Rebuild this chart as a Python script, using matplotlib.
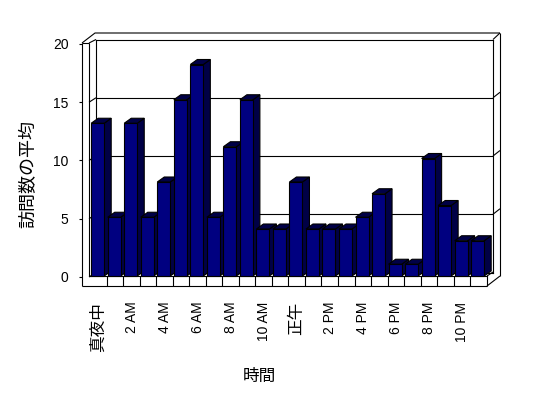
import matplotlib
matplotlib.use("Agg")
import matplotlib.pyplot as plt
import numpy as np

plt.rcParams['font.family'] = ['Liberation Sans', 'Noto Sans CJK JP', 'DejaVu Sans']

# ---- data ----
hours = list(range(24))
visits = [13, 5, 13, 5, 8, 15, 18, 5, 11, 15, 4, 4, 8, 4, 4, 4, 5, 7, 1, 1, 10, 6, 3, 3]
tick_pos = [0, 2, 4, 6, 8, 10, 12, 14, 16, 18, 20, 22]
tick_labels = ['真夜中', '2 AM', '4 AM', '6 AM', '8 AM', '10 AM', '正午',
               '2 PM', '4 PM', '6 PM', '8 PM', '10 PM']
y_ticks = [0, 5, 10, 15, 20]
x_title = '時間'
y_title = '訪問数の平均'

W, H = 548, 398
fig = plt.figure(figsize=(W / 100, H / 100), dpi=100)
fig.patch.set_facecolor('white')

def rect(l, t, r, b):
    return [l / W, 1 - b / H, (r - l) / W, (b - t) / H]

LW = 0.8

# ---- overlay for oblique frame lines (pixel coords) ----
ov = fig.add_axes([0, 0, 1, 1], zorder=0)
ov.set_xlim(0, W)
ov.set_ylim(H, 0)
ov.axis('off')

def seg(pts):
    xs, ys = zip(*pts)
    ov.plot(xs, ys, color='black', lw=LW, solid_capstyle='butt')

# back wall geometry
bw_l, bw_r, bw_t, bw_b = 96, 493, 39.5, 272.5
def yb(v):
    return bw_b - (bw_b - bw_t) * v / 20.0

seg([(82, 43), (82, 286)])
seg([(82, 43), (89, 43)])
seg([(89, 43), (89, 276)])
seg([(82, 43), (95, 33), (500, 33)])
seg([(89, 43), (96, 39.5)])
seg([(493, 39.5), (500, 33)])
seg([(500, 33), (500, 276)])
seg([(89, 276), (91, 276)])
seg([(82, 286), (487, 286)])
seg([(487, 276), (487, 286)])
seg([(487, 276), (493, 272)])
seg([(487, 286), (500, 276)])
for v in [0, 5, 10, 15]:
    seg([(89, yb(v) + 4.5), (96, yb(v))])
for v in [5, 10, 15]:
    seg([(493, yb(v)), (500, yb(v) - 5.5)])

# ---- back wall with gridlines ----
axb = fig.add_axes(rect(bw_l, bw_t, bw_r, bw_b), zorder=1)
axb.patch.set_alpha(0)
axb.set_ylim(0, 20)
axb.set_xlim(0, 1)
axb.set_yticks([5, 10, 15])
axb.set_xticks([])
axb.tick_params(axis='y', length=0, labelleft=False)
axb.grid(axis='y', color='black', lw=LW)
for s in axb.spines.values():
    s.set_linewidth(LW)
    s.set_color('black')

# ---- front axis (tick labels) ----
axf = fig.add_axes(rect(82, 44, 89, 277), zorder=2)
axf.patch.set_alpha(0)
axf.set_ylim(0, 20)
axf.set_yticks(y_ticks)
axf.set_yticklabels([str(t) for t in y_ticks])
axf.set_xticks([])
axf.tick_params(axis='y', direction='out', length=2.2, width=LW, pad=7.5,
                labelsize=10)
for s in axf.spines.values():
    s.set_visible(False)

# ---- main bars ----
ax = fig.add_axes(rect(90.2, 41, 486.7, 276), zorder=3)
ax.patch.set_alpha(0)
ax.set_xlim(-0.5, 23.5)
ax.set_ylim(0, 20)

cell_px = (486.7 - 90.2) / 24
unit_px = (276 - 41) / 20
dx = 7 / cell_px
dy = 5 / unit_px
bw = 13 / cell_px
off = 1.0 / cell_px

front_c = '#000080'
dark_c = '#000046'
for i, (h, v) in enumerate(zip(hours, visits)):
    x0 = h - 0.5 + off
    z = 10 + i
    ax.add_patch(plt.Polygon([(x0 + bw, 0), (x0 + bw + dx, dy), (x0 + bw + dx, v + dy), (x0 + bw, v)],
                             closed=True, facecolor=dark_c, edgecolor='black', lw=LW, zorder=z,
                             clip_on=False))
    ax.add_patch(plt.Polygon([(x0, v), (x0 + bw, v), (x0 + bw + dx, v + dy), (x0 + dx, v + dy)],
                             closed=True, facecolor=dark_c, edgecolor='black', lw=LW, zorder=z,
                             clip_on=False))
    ax.bar([x0], [v], width=bw, align='edge', color=front_c, edgecolor='black',
           lw=LW, zorder=z + 0.5, clip_on=False)

ax.set_yticks([])
ax.set_xticks(tick_pos)
ax.set_xticklabels(tick_labels)
ax.set_xticks([k - 0.5 for k in range(1, 24)], minor=True)
ax.tick_params(axis='x', which='major', length=0, pad=18.5, labelrotation=90,
               labelsize=10)
ax.tick_params(axis='x', which='minor', direction='out', length=10 * 0.72,
               width=LW, color='black')
for lab in ax.get_xticklabels():
    if any(ord(ch) > 0x3000 for ch in lab.get_text()):
        lab.set_fontsize(12)
for name, s in ax.spines.items():
    if name == 'bottom':
        s.set_linewidth(LW)
        s.set_color('black')
    else:
        s.set_visible(False)

fig.text(259 / W, 1 - 376 / H, x_title, ha='center', va='center', fontsize=12)
fig.text(29 / W, 1 - 174 / H, y_title, ha='center', va='center', rotation=90,
         fontsize=13)

fig.savefig('out.png', dpi=100, facecolor='white')
